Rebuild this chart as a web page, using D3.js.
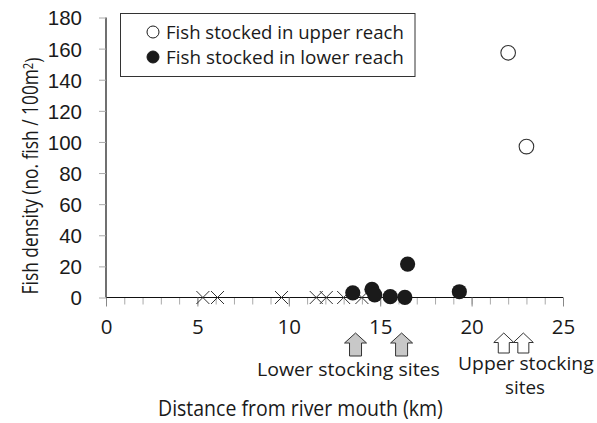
<!DOCTYPE html>
<html>
<head>
<meta charset="utf-8">
<script src="https://cdn.jsdelivr.net/npm/d3@7"></script>
<style>
  html, body { margin: 0; padding: 0; background: #fff; }
  svg { display: block; }
</style>
</head>
<body>
<svg id="chart" width="597" height="423"></svg>
<script>
// ---- data ----
const upperX = [22.0, 23.0];
const upperY = [157.3, 97.0];
const lowerX = [13.5, 14.55, 14.7, 15.55, 16.35, 16.5, 19.33];
const lowerY = [3.0, 5.3, 1.7, 0.5, 0.1, 21.5, 3.7];
const absentX = [5.3, 6.1, 9.6, 11.5, 12.05, 13.0, 14.0];
const absentY = [0, 0, 0, 0, 0, 0, 0];
const lowerSites = [13.65, 16.17];
const upperSites = [21.76, 22.83];
const xTicks = [0, 5, 10, 15, 20, 25];
const yTicks = [0, 20, 40, 60, 80, 100, 120, 140, 160, 180];
const legendLabels = ["Fish stocked in upper reach", "Fish stocked in lower reach"];
const xTitle = "Distance from river mouth (km)";
const yTitle = ["Fish density (no. fish / 100m", "2", ")"];
const lowerSitesLabel = "Lower stocking sites";
const upperSitesLabel = ["Upper stocking", "sites"];

const svg = d3.select("#chart");
const sansC = "'Open Sans', 'Noto Sans', sans-serif";
const sansA = "'Liberation Sans', Arial, sans-serif";
const ink = "#1a1a1a";

const x = d3.scaleLinear().domain([0, 25]).range([106, 563]);
const y = d3.scaleLinear().domain([0, 180]).range([297.5, 17.5]);

// text placed at (tx,ty), optionally rotated, horizontally squeezed to a target width
function label(tx, ty, rot, anchor, fs, width, build) {
  const outer = svg.append("g").attr("transform", `translate(${tx},${ty}) rotate(${rot})`);
  const inner = outer.append("g");
  const t = inner.append("text").attr("text-anchor", anchor).attr("font-family", sansC)
    .attr("font-size", fs).attr("fill", ink);
  build(t);
  if (width) {
    const w = t.node().getBBox().width;
    inner.attr("transform", `scale(${width / w},1)`);
  }
  return t;
}

// y axis
const yAxis = d3.axisLeft(y).tickValues(yTicks).tickSize(7).tickPadding(17).tickFormat(d3.format("d"));
const gy = svg.append("g").attr("transform", `translate(${x(0)},0)`).call(yAxis);
gy.select(".domain").attr("stroke", "#111").attr("stroke-width", 1.2).attr("d", `M0,${y(180)}V${y(0)}`);
gy.selectAll(".tick line").attr("stroke", "#aaa").attr("stroke-width", 1);
gy.selectAll(".tick text").attr("font-family", sansA).attr("font-size", 20.5).attr("fill", ink).attr("dy", "0.36em");

// x axis minor ticks
const gxMinor = svg.append("g").attr("transform", `translate(0,${y(0)})`)
  .call(d3.axisBottom(x).tickValues(d3.range(0, 26)).tickSize(7).tickFormat(""));
gxMinor.select(".domain").remove();
gxMinor.selectAll(".tick line").attr("stroke", "#aaa");
// x axis major
const gx = svg.append("g").attr("transform", `translate(0,${y(0)})`)
  .call(d3.axisBottom(x).tickValues(xTicks).tickSize(9).tickPadding(13));
gx.select(".domain").attr("stroke", "#111").attr("stroke-width", 1.2).attr("d", `M${x(0)},0H${x(25)}`);
gx.selectAll(".tick line").attr("stroke", "#888");
gx.selectAll(".tick text").attr("font-family", sansC).attr("font-size", 20.5).attr("fill", ink);

// absent markers (crosses)
const cs = 6.5;
svg.append("g").selectAll("path").data(absentX).join("path")
  .attr("d", (d, i) => {
    const cx = x(d), cy = y(absentY[i]);
    return `M${cx - cs},${cy - cs}L${cx + cs},${cy + cs}M${cx - cs},${cy + cs}L${cx + cs},${cy - cs}`;
  })
  .attr("stroke", "#333").attr("stroke-width", 1).attr("fill", "none");

// lower reach (filled)
svg.append("g").selectAll("circle").data(lowerX).join("circle")
  .attr("cx", d => x(d)).attr("cy", (d, i) => y(lowerY[i])).attr("r", 7.6)
  .attr("fill", ink);

// upper reach (open)
svg.append("g").selectAll("circle").data(upperX).join("circle")
  .attr("cx", d => x(d)).attr("cy", (d, i) => y(upperY[i])).attr("r", 7.3)
  .attr("fill", "#fff").attr("stroke", "#333").attr("stroke-width", 1.1);

// arrows
function arrowPath(cx, top, hw, hh, sw, h) {
  return `M${cx},${top}L${cx + hw},${top + hh}L${cx + sw},${top + hh}L${cx + sw},${top + h}` +
         `L${cx - sw},${top + h}L${cx - sw},${top + hh}L${cx - hw},${top + hh}Z`;
}
svg.append("g").selectAll("path").data(lowerSites).join("path")
  .attr("d", d => arrowPath(x(d), 333, 11, 10, 6, 23))
  .attr("fill", "#c8c8c8").attr("stroke", "#333").attr("stroke-width", 1);
svg.append("g").selectAll("path").data(upperSites).join("path")
  .attr("d", d => arrowPath(x(d), 333, 10, 9.5, 5.5, 20))
  .attr("fill", "#fff").attr("stroke", "#333").attr("stroke-width", 1);

// site labels
label(257, 376, 0, "start", 19, 183, t => t.text(lowerSitesLabel));
label(458, 370, 0, "start", 18, 136, t => t.text(upperSitesLabel[0]));
label(525, 394, 0, "middle", 18, 40, t => t.text(upperSitesLabel[1]));

// x title
label(158, 416, 0, "start", 21, 285, t => t.text(xTitle));

// y title
label(38, 176, -90, "middle", 21, 237, t => {
  t.append("tspan").text(yTitle[0]);
  t.append("tspan").attr("dy", "-0.4em").attr("font-size", "0.65em").text(yTitle[1]);
  t.append("tspan").attr("dy", "0.4em").text(yTitle[2]);
});

// legend
svg.append("rect").attr("x", 120.5).attr("y", 13.5).attr("width", 294.5).attr("height", 63)
  .attr("fill", "#fff").attr("stroke", "#333").attr("stroke-width", 1);
const legY = [32, 57];
legendLabels.forEach((d, i) => {
  svg.append("circle").attr("cx", 153).attr("cy", legY[i]).attr("r", 6)
    .attr("fill", i === 0 ? "#fff" : ink).attr("stroke", ink).attr("stroke-width", 1);
  label(166, legY[i] + 6.5, 0, "start", 18, 238, t => t.text(d));
});
</script>
</body>
</html>
